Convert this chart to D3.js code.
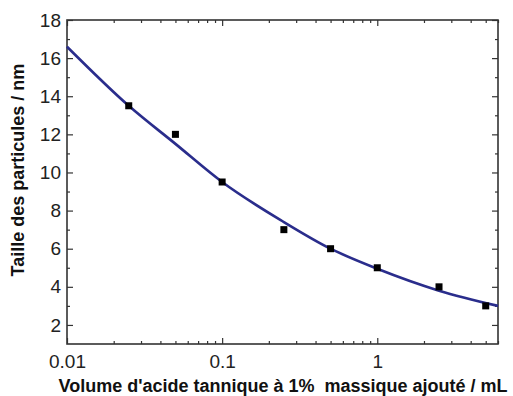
<!DOCTYPE html>
<html><head><meta charset="utf-8">
<script src="https://cdn.jsdelivr.net/npm/d3@7"></script>
<style>body{margin:0;background:#fff}svg{display:block}</style>
</head><body><svg id="c" width="513" height="396"></svg>
<script>
const volumes = [0.025, 0.05, 0.1, 0.25, 0.5, 1, 2.5, 5];
const sizes = [13.5, 12.0, 9.5, 7.0, 6.0, 5.0, 4.0, 3.0];
const fitX = [0.01, 0.025, 0.05, 0.1, 0.25, 0.5, 1, 2.5, 6];
const fitY = [16.6, 13.5, 11.5, 9.5, 7.4, 6.0, 4.95, 3.8, 3.0];
const xMajor = [0.01, 0.1, 1];
const yMajor = [2, 4, 6, 8, 10, 12, 14, 16, 18];
const xLabel = "Volume d'acide tannique à 1%  massique ajouté / mL";
const yLabel = "Taille des particules / nm";

const m = {l:67, t:20, r:498, b:344};
const svg = d3.select("#c");
const x = d3.scaleLog().domain([0.01, 6]).range([m.l, m.r]);
const y = d3.scaleLinear().domain([1, 18]).range([m.b, m.t]);
const ax = "#333";

const xMinor = [];
[0.01, 0.1, 1].forEach(d => { for (let k = 2; k <= 9; k++) { const v = d*k; if (v <= 6) xMinor.push(v); } });
const yMinor = d3.range(3, 18, 2);

function axis(gen, tr) {
  const g = svg.append("g").attr("transform", tr).call(gen);
  g.select(".domain").remove();
  g.selectAll("line").attr("stroke", ax).attr("stroke-width", 1.2);
  return g;
}
const font = "'Liberation Sans', Arial, sans-serif";
// bottom
axis(d3.axisBottom(x).tickValues(xMajor).tickSize(-6).tickPadding(11).tickFormat(d3.format("")), `translate(0,${m.b})`)
  .selectAll("text").attr("font-family", font).attr("font-size", 19).attr("fill", "#222");
axis(d3.axisBottom(x).tickValues(xMinor).tickSize(-3).tickFormat(""), `translate(0,${m.b})`);
// top
axis(d3.axisTop(x).tickValues(xMajor).tickSize(-6).tickFormat(""), `translate(0,${m.t})`);
axis(d3.axisTop(x).tickValues(xMinor).tickSize(-3).tickFormat(""), `translate(0,${m.t})`);
// left
axis(d3.axisLeft(y).tickValues(yMajor).tickSize(-6).tickPadding(6), `translate(${m.l},0)`)
  .selectAll("text").attr("font-family", font).attr("font-size", 19).attr("fill", "#222");
axis(d3.axisLeft(y).tickValues(yMinor).tickSize(-3).tickFormat(""), `translate(${m.l},0)`);
// right
axis(d3.axisRight(y).tickValues(yMajor).tickSize(-6).tickFormat(""), `translate(${m.r},0)`);
axis(d3.axisRight(y).tickValues(yMinor).tickSize(-3).tickFormat(""), `translate(${m.r},0)`);

svg.append("rect").attr("x", m.l).attr("y", m.t).attr("width", m.r-m.l).attr("height", m.b-m.t)
  .attr("fill", "none").attr("stroke", ax).attr("stroke-width", 1.6);

const fit = fitX.map((v,i)=>[v, fitY[i]]);
svg.append("path").datum(fit)
  .attr("d", d3.line().x(d=>x(d[0])).y(d=>y(d[1])).curve(d3.curveMonotoneX))
  .attr("fill", "none").attr("stroke", "#2a2d8c").attr("stroke-width", 2.6);

svg.append("g").selectAll("rect").data(volumes).join("rect")
  .attr("x", (d)=>x(d)-3.5).attr("y", (d,i)=>y(sizes[i])-3.5)
  .attr("width", 7).attr("height", 7).attr("fill", "#000");

svg.append("text").attr("x", 283).attr("y", 392).attr("text-anchor", "middle")
  .attr("font-family", font).attr("font-weight", "bold").attr("font-size", 18)
  .style("white-space", "pre").attr("fill", "#111").text(xLabel);
svg.append("text").attr("transform", "translate(24,170) rotate(-90)").attr("text-anchor", "middle")
  .attr("font-family", font).attr("font-weight", "bold").attr("font-size", 18)
  .attr("fill", "#111").text(yLabel);
</script></body></html>
